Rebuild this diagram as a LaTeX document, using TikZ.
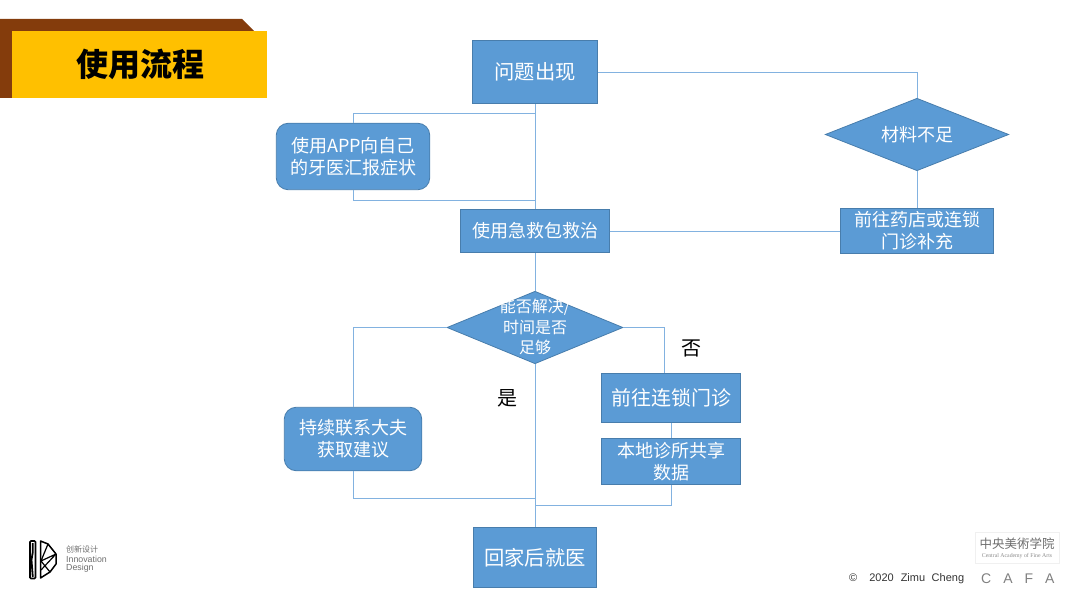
\documentclass[tikz,border=0pt]{standalone}
\usepackage{fontspec}
\setmainfont{Noto Sans CJK SC}
\newfontfamily\latinfont{Liberation Sans}
\newfontfamily\latinserif{Liberation Serif}
\usetikzlibrary{shapes.geometric}
\definecolor{BoxBlue}{RGB}{91,155,213}
\definecolor{BoxEdge}{RGB}{72,125,172}
\definecolor{LinkBlue}{RGB}{130,178,224}
\definecolor{TitleGold}{RGB}{255,192,0}
\definecolor{TitleBrown}{RGB}{132,60,12}
\definecolor{LogoGray}{RGB}{110,110,110}
\tikzset{
  boxbase/.style={draw=BoxEdge,fill=BoxBlue,text=white,inner sep=0pt,align=center,line width=0.8pt},
  rect/.style={boxbase,rectangle},
  soft/.style={boxbase,rectangle,rounded corners=12pt},
  choice/.style={boxbase,diamond,aspect=2.5},
  link/.style={draw=LinkBlue,line width=0.9pt},
  say/.style={text=black,inner sep=0pt,font=\fontsize{20}{24}\selectfont},
  mark text/.style={inner sep=0pt,text=LogoGray,anchor=west},
  small/.style={font=\fontsize{18}{22}\selectfont},
  big/.style={font=\fontsize{20.3}{24}\selectfont},
}

\begin{document}
\begin{tikzpicture}[x=1pt,y=-1pt]
\useasboundingbox (0,0) rectangle (1080,607);
% title band
\fill[TitleBrown] (0,19)--(242,19)--(254,31)--(254,98)--(0,98)--cycle;
\node[rectangle,fill=TitleGold,minimum width=255pt,minimum height=67pt,inner sep=0pt] (band) at (139.5,64.5) {};
\node[inner sep=0pt,font=\fontsize{32}{36}\selectfont\bfseries] (title) at (140,64.5) {使用流程};
% steps
\node[rect,big,minimum width=125.5pt,minimum height=63.5pt] (problem) at (535,72) {问题出现};
\node[soft,small,minimum width=153.5pt,minimum height=66.5pt] (app) at (353,156.5) {使用APP向自己\\的牙医汇报症状};
\node[rect,small,minimum width=148.5pt,minimum height=43pt] (kit) at (535,231) {使用急救包救治};
\node[choice,minimum width=176pt,minimum height=72.5pt] (ask) at (535,327.5) {};
\node[inner sep=0pt,text=white,align=center,font=\fontsize{16}{20.5}\selectfont] (asktext) at (535,327) {能否解决/\\时间是否\\足够};
\node[choice,small,minimum width=183.5pt,minimum height=72.5pt] (lack) at (917,134.5) {材料不足};
\node[rect,small,minimum width=153.5pt,minimum height=45.5pt] (shop) at (917,231) {前往药店或连锁\\门诊补充};
\node[rect,big,font=\fontsize{20}{24}\selectfont,minimum width=138.5pt,minimum height=49.5pt] (chain) at (671,398) {前往连锁门诊};
\node[rect,small,minimum width=138.5pt,minimum height=46.5pt] (share) at (671,461.5) {本地诊所共享\\数据};
\node[soft,small,minimum width=137.5pt,minimum height=63.5pt] (keep) at (353,439) {持续联系大夫\\获取建议};
\node[rect,big,minimum width=122.5pt,minimum height=60.5pt] (home) at (535,557.5) {回家后就医};
% branch labels
\node[say] (yes) at (507,398.5) {是};
\node[say] (no) at (691,348) {否};
% joints
\coordinate (topjoint) at (535,113);
\coordinate (kitjoint) at (535,200);
\coordinate (chainin) at (664,373);
\coordinate (leftjoint) at (535,498);
\coordinate (rightjoint) at (535,505);
% connectors
\draw[link] (problem.east) -| (lack.north);
\draw[link] (lack.south) -- (shop.north);
\draw[link] (problem.south) -- (kit.north);
\draw[link] (topjoint) -| (app.north);
\draw[link] (app.south) |- (kitjoint);
\draw[link] (kit.east) -- (shop.west);
\draw[link] (kit.south) -- (ask.north);
\draw[link] (ask.south) -- (home.north);
\draw[link] (ask.west) -| (keep.north);
\draw[link] (ask.east) -| (chainin);
\draw[link] (chain.south) -- (share.north);
\draw[link] (keep.south) |- (leftjoint);
\draw[link] (share.south) |- (rightjoint);
% logo left
\draw[black,line width=1.7pt,rounded corners=1pt] (30,541)--(35.5,541)--(35.5,578.5)--(30,578.5)--cycle;
\draw[black,line width=1.8pt] (32.8,543)--(32.8,552)--(31.5,560)--(32.8,577);
\draw[black,line width=1.5pt,line join=round] (40.5,541)--(48,544)--(56,554)--(56,564)--(50,572)--(40.5,578)--cycle;
\draw[black,line width=1.2pt] (41,561)--(48,544) (41,561)--(56,554) (41,561)--(50,572) (41,570)--(56,554);
\node[mark text,font=\fontsize{8}{10}\selectfont] (cn) at (66,549.5) {创新设计};
\node[mark text,font=\fontsize{8.8}{10}\selectfont\latinfont] (inno) at (66,559.5) {Innovation};
\node[mark text,font=\fontsize{8.8}{10}\selectfont\latinfont] (design) at (66,568.5) {Design};
% logo right
\node[rectangle,draw=black!6,fill=white,line width=0.8pt,minimum width=84pt,minimum height=31pt,inner sep=0pt] (cafabox) at (1017,547.5) {};
\node[inner sep=0pt,text=LogoGray,font=\fontsize{12.5}{14}\selectfont] (cafacn) at (1017,544) {中央美術学院};
\node[inner sep=0pt,text=black!45,font=\fontsize{5.8}{7}\selectfont\latinserif] (cafaen) at (1017,556.5) {Central Academy of Fine Arts};
\node[mark text,text=black!80,font=\fontsize{11}{12}\selectfont\latinfont] (copy) at (849,578.5) {©\hspace{12pt}2020\hspace{7pt}Zimu\hspace{6.5pt}Cheng};
\node[mark text,text=black!50,font=\fontsize{14}{16}\selectfont\latinfont] (cafa) at (981,578.5) {C\hspace{12pt}A\hspace{12pt}F\hspace{12pt}A};
\end{tikzpicture}
\end{document}
